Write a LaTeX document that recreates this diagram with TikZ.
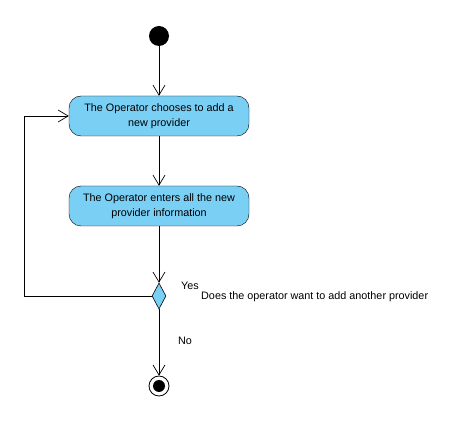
\documentclass[tikz,border=0pt]{standalone}
\usepackage{fontspec}
\setmainfont{Liberation Sans}
\usetikzlibrary{arrows.meta,shapes.geometric}
\definecolor{actfill}{RGB}{122,207,245}
\tikzset{
  action/.style={draw=black, fill=actfill, rounded corners=12pt, minimum width=180pt,
    minimum height=40pt, align=center, font=\fontsize{10.8}{15}\selectfont, inner sep=0pt},
  flow/.style={draw=black, line width=0.7pt, -{Straight Barb[length=10pt,width=12pt,line width=0.7pt]}},
  label/.style={font=\fontsize{10.8}{12}\selectfont, anchor=west, inner sep=0pt}
}
\begin{document}
\begin{tikzpicture}[x=1pt,y=-1pt]
  \useasboundingbox (0,0) rectangle (453,438);
  \fill[white] (0,0) rectangle (453,438);
  % start node
  \node[circle, fill=black, minimum size=20pt, inner sep=0pt] (start) at (159,36) {};
  % actions
  \node[action] (choose) at (159,116) {The Operator chooses to add a\\new provider};
  \node[action] (enter) at (159,206) {The Operator enters all the new\\provider information};
  % decision
  \node[diamond, draw=black, fill=actfill, minimum width=14pt, minimum height=26pt,
        inner sep=0pt, line width=0.6pt] (dec) at (159,296) {};
  % final node
  \node[circle, draw=black, line width=0.8pt, fill=white, minimum size=20pt, inner sep=0pt] (final) at (159,386) {};
  \node[circle, fill=black, minimum size=12pt, inner sep=0pt] (finaldot) at (final) {};
  \coordinate (loopbl) at (24,296);
  \coordinate (looptl) at (24,116);
  % flows
  \draw[flow] (start) -- (choose);
  \draw[flow] (choose) -- (enter);
  \draw[flow] (enter) -- (dec);
  \draw[flow] (dec.west) -- (loopbl) -- (looptl) -- (choose.west);
  \draw[flow] (dec.south) -- (final);
  % guards
  \node[label] (yes) at (181,286) {Yes};
  \node[label] (question) at (201,297) {Does the operator want to add another provider};
  \node[label] (no) at (178,341) {No};
\end{tikzpicture}
\end{document}
